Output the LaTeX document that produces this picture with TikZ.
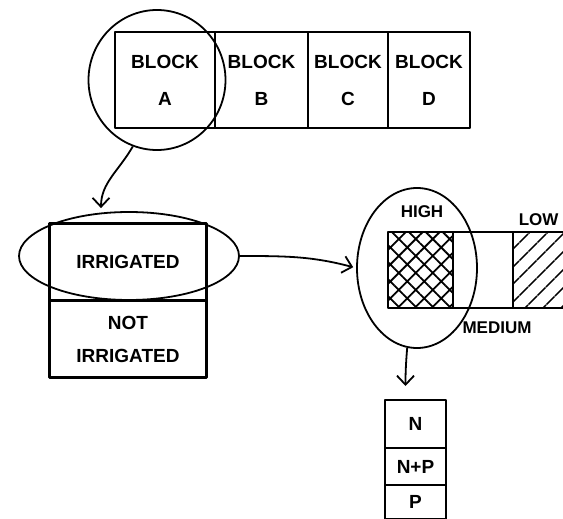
\documentclass[tikz,border=0pt]{standalone}
\usepackage{fontspec}
\setmainfont{Liberation Sans}
\usepackage{tikz}
\usetikzlibrary{positioning, calc, shapes.geometric, arrows.meta, patterns.meta}
\tikzstyle{Arrow} = [
    line width = 1.8pt,
    -{Straight Barb[length=9pt, width=17pt, line width=1.8pt]},
    shorten >= 3pt
]

\begin{document}
\begin{tikzpicture}[x=1pt, y=-1pt,
box/.style={
    draw,
    line width = 2.8pt,
    line join = round,
    inner sep = 0pt,
    outer sep = 0pt,
    align = center,
    font = \fontsize{19}{37}\selectfont\bfseries
    },
loop/.style={
    draw,
    ellipse,
    line width = 1.8pt,
    inner sep = 0pt
    },
tag/.style={font = \fontsize{17}{20}\selectfont\bfseries}
]
\useasboundingbox (0,0) rectangle (563,519);
\clip (0,0) rectangle (563,519);

% blocks
\node [box, minimum width = 100, minimum height = 96] (1) at (165,80) {BLOCK\\A};
\node [box, minimum width = 93, minimum height = 96, right = 0pt of 1] (2) {BLOCK\\B};
\node [box, minimum width = 80, minimum height = 96, right = 0pt of 2] (3) {BLOCK\\C};
\node [box, minimum width = 82, minimum height = 96, right = 0pt of 3] (4) {BLOCK\\D};
\node [loop, minimum width = 137, minimum height = 140] (5) at (157,80) {};

% main plots
\node [box, minimum width = 157, minimum height = 77] (6) at (128,262) {IRRIGATED};
\node [box, minimum width = 157, minimum height = 77, below = 0pt of 6,
    font = \fontsize{19}{33}\selectfont\bfseries] (7) {NOT\\IRRIGATED};
\node [loop, minimum width = 220, minimum height = 88] (8) at (129,256) {};

% sub plots
\node [box, minimum width = 65, minimum height = 76,
    pattern = {Hatch[angle=45, distance=12pt, line width=1.8pt]}] (9) at (420.5,270) {};
\node [box, minimum width = 60, minimum height = 76, right = 0pt of 9] (10) {};
\node [box, minimum width = 100, minimum height = 76, right = 0pt of 10,
    pattern = {Lines[angle=45, distance=13pt, line width=1.8pt]}] (11) {};
\node [tag] (12) at (422,212) {HIGH};
\node [tag] (13) at (497,328) {MEDIUM};
\node [tag, anchor = east] (14) at (562,220) {LOW};
\node [loop, minimum width = 120, minimum height = 160] (15) at (417,268) {};

% sub-sub plots
\node [box, minimum width = 61, minimum height = 48] (16) at (415.5,424) {N};
\node [box, minimum width = 61, minimum height = 37, below = 0pt of 16] (17) {N+P};
\node [box, minimum width = 61, minimum height = 34, below = 0pt of 17] (18) {P};

\draw[Arrow] (5.250) to [out=240, in=90] ([xshift=-28pt]8.north);
\draw[Arrow] (8.east) to [out=0, in=165] (15.west);
\draw[Arrow, shorten >= 14pt] (15.263) to [out=265, in=90] ([xshift=-10pt]16.north);

\end{tikzpicture}
\end{document}
